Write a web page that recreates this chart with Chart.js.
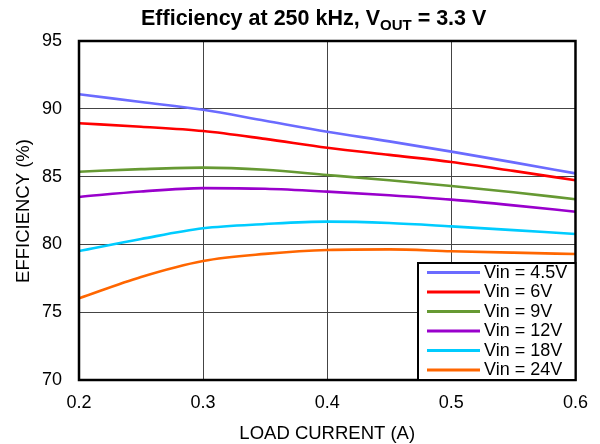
<!DOCTYPE html>
<html><head><meta charset="utf-8">
<script src="https://cdn.jsdelivr.net/npm/chart.js@4"></script>
<style>html,body{margin:0;padding:0;background:#fff}#wrap{width:600px;height:444px}</style>
</head><body><div id="wrap"><canvas id="c" width="600" height="444"></canvas></div>
<script>
const loadCurrent = [0.2, 0.25, 0.3, 0.35, 0.4, 0.45, 0.5, 0.55, 0.6];
const vin45 = [91.07, 90.5, 89.93, 89.12, 88.31, 87.6, 86.84, 86.05, 85.24];
const vin6  = [88.93, 88.68, 88.36, 87.78, 87.13, 86.6, 86.08, 85.42, 84.73];
const vin9  = [85.36, 85.55, 85.66, 85.5, 85.12, 84.73, 84.31, 83.84, 83.33];
const vin12 = [83.5, 83.9, 84.15, 84.1, 83.89, 83.62, 83.3, 82.88, 82.41];
const vin18 = [79.51, 80.4, 81.19, 81.5, 81.68, 81.58, 81.33, 81.05, 80.77];
const vin24 = [76.02, 77.6, 78.78, 79.3, 79.59, 79.63, 79.5, 79.39, 79.29];
const seriesLabels = ['Vin = 4.5V', 'Vin = 6V', 'Vin = 9V', 'Vin = 12V', 'Vin = 18V', 'Vin = 24V'];
const seriesValues = [vin45, vin6, vin9, vin12, vin18, vin24];
const seriesColors = ['#6b6bff', '#ff0000', '#669933', '#9900cc', '#00ccff', '#ff6600'];
const xTickLabels = ['0.2', '0.3', '0.4', '0.5', '0.6'];
const yTickLabels = ['70', '75', '80', '85', '90', '95'];
const titleMain = 'Efficiency at 250 kHz, V';
const titleSub = 'OUT';
const titleRest = ' = 3.3 V';
const xTitle = 'LOAD CURRENT (A)';
const yTitle = 'EFFICIENCY (%)';

const FONT = '"Liberation Sans", Arial, sans-serif';

const decor = {
  id: 'decor',
  afterDatasetsDraw(chart) {
    const {ctx, chartArea: a} = chart;
    ctx.save();
    ctx.strokeStyle = '#000';
    ctx.lineWidth = 2.5;
    ctx.strokeRect(a.left, a.top, a.right - a.left, a.bottom - a.top);
    const lx = 418, ly = 263, lw = a.right - 418, lh = a.bottom - 263;
    ctx.fillStyle = '#fff';
    ctx.fillRect(lx, ly, lw, lh);
    ctx.lineWidth = 2;
    ctx.strokeRect(lx, ly, lw, lh);
    ctx.font = '18px ' + FONT;
    ctx.textBaseline = 'middle';
    ctx.textAlign = 'left';
    chart.data.datasets.forEach((ds, i) => {
      const y = 272.5 + i * 19.5;
      ctx.strokeStyle = ds.borderColor;
      ctx.lineWidth = 3;
      ctx.beginPath();
      ctx.moveTo(427, y);
      ctx.lineTo(480, y);
      ctx.stroke();
      ctx.fillStyle = '#000';
      ctx.fillText(ds.label, 484, y + 0.5);
    });
    ctx.restore();
  },
  afterDraw(chart) {
    const {ctx, chartArea: a} = chart;
    ctx.save();
    ctx.fillStyle = '#000';
    ctx.textBaseline = 'alphabetic';
    ctx.textAlign = 'left';
    let x = 141;
    ctx.font = 'bold 21.5px ' + FONT;
    ctx.fillText(titleMain, x, 25);
    x += ctx.measureText(titleMain).width;
    ctx.font = 'bold 15px ' + FONT;
    ctx.fillText(titleSub, x, 30);
    x += ctx.measureText(titleSub).width;
    ctx.font = 'bold 21.5px ' + FONT;
    ctx.fillText(titleRest, x, 25);
    ctx.font = '18.5px ' + FONT;
    ctx.textAlign = 'center';
    ctx.fillText(xTitle, (a.left + a.right) / 2, 439);
    ctx.textBaseline = 'middle';
    ctx.translate(24, 211);
    ctx.rotate(-Math.PI / 2);
    ctx.fillText(yTitle, 0, 0);
    ctx.restore();
  }
};

new Chart(document.getElementById('c'), {
  type: 'line',
  data: {
    datasets: seriesLabels.map((label, i) => ({
      label,
      data: loadCurrent.map((x, j) => ({x, y: seriesValues[i][j]})),
      borderColor: seriesColors[i],
      backgroundColor: seriesColors[i],
      borderWidth: 2.6,
      pointRadius: 0,
      cubicInterpolationMode: 'monotone',
      fill: false
    }))
  },
  options: {
    responsive: false,
    animation: false,
    devicePixelRatio: 1,
    layout: {padding: {top: 41, right: 24, left: 0, bottom: 0}},
    plugins: {legend: {display: false}, title: {display: false}, tooltip: {enabled: false}},
    scales: {
      x: {
        type: 'linear', min: 0.2, max: 0.6,
        afterBuildTicks: s => { s.ticks = xTickLabels.map(v => ({value: parseFloat(v)})); },
        afterFit: s => { s.height = 64; },
        ticks: {callback: (v, i) => xTickLabels[i], color: '#000', font: {size: 18, family: FONT}, padding: 12, maxRotation: 0},
        grid: {color: '#444', lineWidth: 1, drawTicks: false},
        border: {display: false}
      },
      y: {
        type: 'linear', min: 70, max: 95,
        afterBuildTicks: s => { s.ticks = yTickLabels.map(v => ({value: parseFloat(v)})); },
        afterFit: s => { s.width = 79; },
        ticks: {callback: (v, i) => yTickLabels[i], color: '#000', font: {size: 18, family: FONT}, padding: 17},
        grid: {color: '#444', lineWidth: 1, drawTicks: false},
        border: {display: false}
      }
    }
  },
  plugins: [decor]
});
</script></body></html>
